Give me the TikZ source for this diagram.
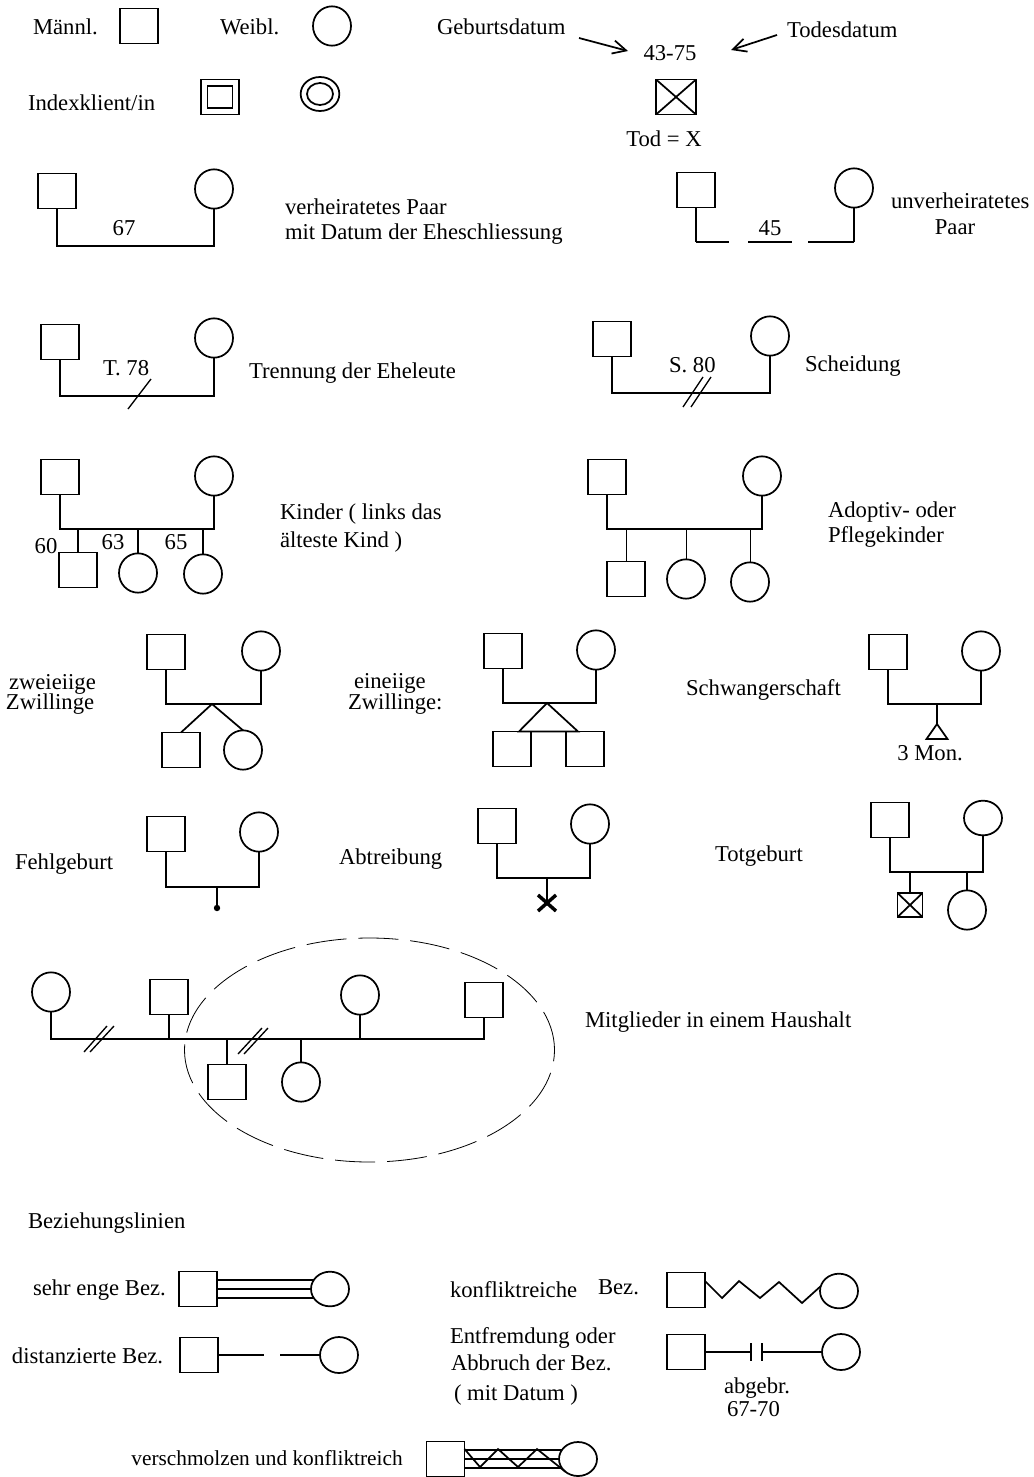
\documentclass[tikz,border=0pt]{standalone}
\usepackage{fontspec}
\setmainfont{Liberation Serif}
\usetikzlibrary{shapes.geometric,arrows.meta}
\begin{document}
\begin{tikzpicture}[x=0.75pt,y=-0.75pt,
  every node/.style={font=\fontsize{17}{20}\selectfont},
  lnk/.style={line width=1.3pt},
  thinlnk/.style={line width=0.7pt},
  slashmark/.style={line width=1pt},
  male/.style={draw, line width=1.3pt, rectangle, minimum width=28.5pt, minimum height=26.25pt, inner sep=0pt, outer sep=0pt},
  female/.style={draw, line width=1.3pt, ellipse, minimum width=28.5pt, minimum height=29.5pt, inner sep=0pt, outer sep=0pt},
  dead/.style={male, path picture={\draw[line width=1.3pt] (path picture bounding box.south west) -- (path picture bounding box.north east) (path picture bounding box.north west) -- (path picture bounding box.south east);}},
  txt/.style={anchor=base west, inner sep=0pt, outer sep=0pt},
  ctxt/.style={anchor=base, inner sep=0pt, outer sep=0pt},
  arr/.style={line width=1.3pt, -{Straight Barb[length=10pt,width=10pt,line width=1.3pt]}}]
\useasboundingbox (0,0) rectangle (1034,1477);

% ---------- symbols ----------
\node[txt] (tMale) at (33,35) {Männl.};
\node[male] (legM) at (139,26) {};
\node[txt] (tFemale) at (220,35) {Weibl.};
\node[female] (legF) at (332,26) {};
\node[txt] (tBirth) at (437,35) {Geburtsdatum};
\node[ctxt] (tDates) at (670,61) {43-75};
\node[txt] (tDeath) at (787,38) {Todesdatum};
\coordinate (aB0) at (579,38); \coordinate (aB1) at (628,51);
\coordinate (aD0) at (777,35); \coordinate (aD1) at (731,50);
\draw[arr] (aB0) -- (aB1);
\draw[arr] (aD0) -- (aD1);
\node[dead, minimum width=30pt, minimum height=26.25pt] (legDead) at (676,97) {};
\node[ctxt] (tDeadX) at (664,146) {Tod = X};

\node[txt] (tIndex) at (28,110) {Indexklient/in};
\node[male] (idxM) at (220,97) {};
\node[male, minimum width=18.75pt, minimum height=17pt] (idxMin) at (220,97) {};
\node[female, minimum width=29pt, minimum height=25.5pt] (idxF) at (320,94) {};
\node[female, minimum width=19.5pt, minimum height=16.5pt] (idxFin) at (320,94) {};

% ---------- married / unmarried ----------
\node[male] (mM) at (57,191) {};
\node[female] (mF) at (214,189) {};
\draw[lnk] (mM.south) -- (mM.south |- 0,246) -| (mF.south);
\node[ctxt] (tMYear) at (124,235) {67};
\node[txt] (tMarried1) at (285,214) {verheiratetes Paar};
\node[txt] (tMarried2) at (285,239) {mit Datum der Eheschliessung};

\node[male] (uM) at (696,190) {};
\node[female] (uF) at (854,188) {};
\draw[lnk] (uM.south) -- (uM.south |- 0,242);
\draw[lnk] (uF.south) -- (uF.south |- 0,242);
\draw[lnk, dash pattern=on 24.75pt off 14.25pt on 33pt off 12pt on 34.5pt] (uM.south |- 0,242) -- (uF.south |- 0,242);
\node[ctxt] (tUYear) at (770,235) {45};
\node[txt] (tUnmarried1) at (891,208) {unverheiratetes};
\node[ctxt] (tUnmarried2) at (955,234) {Paar};

% ---------- separation / divorce ----------
\node[male] (sM) at (60,342) {};
\node[female] (sF) at (214,338) {};
\draw[lnk] (sM.south) -- (sM.south |- 0,396) -| (sF.south);
\node[txt] (tSep) at (103,375) {T. 78};
\draw[slashmark] (128,409) -- (151,379);
\node[txt] (tSepL) at (249,378) {Trennung der Eheleute};

\node[male] (dM) at (612,339) {};
\node[female] (dF) at (770,336) {};
\draw[lnk] (dM.south) -- (dM.south |- 0,393) -| (dF.south);
\node[txt] (tDiv) at (669,372) {S. 80};
\draw[slashmark] (683,407) -- (703,377);
\draw[slashmark] (691,407) -- (711,377);
\node[txt] (tDivL) at (805,371) {Scheidung};

% ---------- children ----------
\node[male] (kM) at (60,477) {};
\node[female] (kF) at (214,476) {};
\draw[lnk] (kM.south) -- (kM.south |- 0,529) -| (kF.south);
\node[male] (k1) at (78,570) {};
\node[female] (k2) at (138,573) {};
\node[female] (k3) at (203,574) {};
\draw[lnk] (k1.north) -- (k1.north |- 0,529);
\draw[lnk] (k2.north) -- (k2.north |- 0,529);
\draw[lnk] (k3.north) -- (k3.north |- 0,529);
\node[ctxt] (tK1) at (46,553) {60};
\node[ctxt] (tK2) at (113,549) {63};
\node[ctxt] (tK3) at (176,549) {65};
\node[txt] (tKids1) at (280,519) {Kinder ( links das};
\node[txt] (tKids2) at (280,547) {älteste Kind )};

\node[male] (aM) at (607,477) {};
\node[female] (aF) at (762,476) {};
\draw[lnk] (aM.south) -- (aM.south |- 0,529) -| (aF.south);
\node[male] (a1) at (626,579) {};
\node[female] (a2) at (686,579) {};
\node[female] (a3) at (750,582) {};
\draw[thinlnk] (a1.north) -- (a1.north |- 0,529);
\draw[thinlnk] (a2.north) -- (a2.north |- 0,529);
\draw[thinlnk] (a3.north) -- (a3.north |- 0,529);
\node[txt] (tAdopt1) at (828,517) {Adoptiv- oder};
\node[txt] (tAdopt2) at (828,542) {Pflegekinder};

% ---------- twins / pregnancy ----------
\node[txt] (tDz1) at (9,689) {zweieiige};
\node[txt] (tDz2) at (6,709) {Zwillinge};
\node[male] (zM) at (166,652) {};
\node[female] (zF) at (261,651) {};
\draw[lnk] (zM.south) -- (zM.south |- 0,704) -| (zF.south);
\coordinate (zA) at (212,704);
\node[male] (z1) at (181,750) {};
\node[female] (z2) at (243,750) {};
\draw[lnk] (z1.north) -- (zA) -- (z2.north);

\node[txt] (tMz1) at (354,688) {eineiige};
\node[txt] (tMz2) at (348,709) {Zwillinge:};
\node[male] (eM) at (503,651) {};
\node[female] (eF) at (596,650) {};
\draw[lnk] (eM.south) -- (eM.south |- 0,703) -| (eF.south);
\node[male] (e1) at (512,749) {};
\node[male] (e2) at (585,749) {};
\coordinate (eA) at (547,703);
\coordinate (eL) at (e1.north -| 519,0);
\coordinate (eR) at (e2.north -| 578,0);
\draw[lnk] (eL) -- (eA) -- (eR) -- cycle;

\node[txt] (tPreg) at (686,695) {Schwangerschaft};
\node[male] (pM) at (888,652) {};
\node[female] (pF) at (981,651) {};
\draw[lnk] (pM.south) -- (pM.south |- 0,704) -| (pF.south);
\coordinate (pA) at (937,704);
\coordinate (pT) at (937,724);
\draw[lnk] (pA) -- (pT);
\draw[lnk] (pT) -- ++(-10.5,15) -- ++(21,0) -- cycle;
\node[ctxt] (tPregM) at (930,760) {3 Mon.};

% ---------- miscarriage / abortion / stillbirth ----------
\node[txt] (tMis) at (15,869) {Fehlgeburt};
\node[male] (fM) at (166,834) {};
\node[female] (fF) at (259,832) {};
\draw[lnk] (fM.south) -- (fM.south |- 0,887) -| (fF.south);
\coordinate (fA) at (217,887);
\coordinate (fD) at (217,908);
\draw[lnk] (fA) -- (fD);
\fill (fD) circle [radius=2.4pt];

\node[txt] (tAb) at (339,864) {Abtreibung};
\node[male] (abM) at (497,826) {};
\node[female] (abF) at (590,824) {};
\draw[lnk] (abM.south) -- (abM.south |- 0,878) -| (abF.south);
\coordinate (abA) at (547,878);
\coordinate (abX) at (547,903);
\draw[lnk] (abA) -- (abX);
\draw[line width=2.6pt] (abX) ++(-9,-8) -- ++(18,16) (abX) ++(9,-8) -- ++(-18,16);

\node[txt] (tStill) at (715,861) {Totgeburt};
\node[male] (tM) at (890,820) {};
\node[female, minimum height=26pt] (tF) at (983,818) {};
\draw[lnk] (tM.south) -- (tM.south |- 0,872) -| (tF.south);
\node[dead, minimum width=18.75pt, minimum height=18pt] (t1) at (910,905) {};
\node[female] (t2) at (967,910) {};
\draw[lnk] (t1.north) -- (t1.north |- 0,872);
\draw[lnk] (t2.north) -- (t2.north |- 0,872);

% ---------- household ----------
\node[female] (hF1) at (51,992) {};
\node[male] (hM1) at (169,997) {};
\node[male] (hC1) at (227,1082) {};
\node[female] (hC2) at (301,1082) {};
\node[female] (hF2) at (360,995) {};
\node[male] (hM2) at (484,1000) {};
\draw[lnk] (hF1.south) -- (hF1.south |- 0,1039) -- (hM2.south |- 0,1039) -- (hM2.south);
\draw[lnk] (hM1.south) -- (hM1.south |- 0,1039);
\draw[lnk] (hC1.north) -- (hC1.north |- 0,1039);
\draw[lnk] (hC2.north) -- (hC2.north |- 0,1039);
\draw[lnk] (hF2.south) -- (hF2.south |- 0,1039);
\draw[slashmark] (84,1052) -- (107,1026);
\draw[slashmark] (90,1052) -- (114,1026);
\draw[slashmark] (238,1054) -- (262,1028);
\draw[slashmark] (244,1054) -- (268,1028);
\draw[line width=0.6pt, dash pattern=on 30pt off 9pt] (369.5,1050) ellipse [x radius=138.75pt, y radius=84pt];
\node[txt] (tHouse) at (585,1027) {Mitglieder in einem Haushalt};

% ---------- relationship lines ----------
\node[txt] (tRel) at (28,1228) {Beziehungslinien};

\node[txt] (tClose) at (33,1295) {sehr enge Bez.};
\node[male] (cM) at (198,1289) {};
\node[female, minimum height=26pt] (cF) at (330,1289) {};
\draw[lnk] (cM.east |- cF.150) -- (cF.150);
\draw[lnk] (cM.east |- cF.180) -- (cF.180);
\draw[lnk] (cM.east |- cF.210) -- (cF.210);

\node[txt] (tDist) at (12,1363) {distanzierte Bez.};
\node[male] (xM) at (199,1355) {};
\node[female, minimum height=27pt] (xF) at (339,1355) {};
\draw[lnk] (xM.east) -- ++(46,0);
\draw[lnk] (xF.west) -- ++(-40,0);

\node[txt] (tConf1) at (450,1297) {konfliktreiche};
\node[txt] (tConf2) at (598,1294) {Bez.};
\node[male] (qM) at (686,1290) {};
\node[female, minimum height=26pt] (qF) at (839,1291) {};
\draw[lnk] (qM.east |- 0,1281) -- (722,1298) -- (739,1281) -- (760,1298) -- (779,1282) -- (802,1303) -- (qF.165);

\node[txt] (tCut1) at (450,1343) {Entfremdung oder};
\node[txt] (tCut2) at (451,1370) {Abbruch der Bez.};
\node[txt] (tCut3) at (454,1400) {( mit Datum )};
\node[male] (bM) at (686,1352) {};
\node[female, minimum height=27pt] (bF) at (841,1352) {};
\coordinate (b1) at (751,1352);
\coordinate (b2) at (762,1352);
\draw[lnk] (bM.east) -- (b1);
\draw[lnk] (b2) -- (bF.west);
\draw[lnk] (b1) ++(0,-9) -- ++(0,18);
\draw[lnk] (b2) ++(0,-9) -- ++(0,18);
\node[txt] (tCutD1) at (724,1393) {abgebr.};
\node[txt] (tCutD2) at (727,1416) {67-70};

\node[anchor=base east, inner sep=0pt, font=\fontsize{16}{19}\selectfont] (tFused) at (403,1465) {verschmolzen und konfliktreich};
\node[male] (vM) at (445.5,1459) {};
\node[female, minimum height=25.5pt] (vF) at (578,1459) {};
\draw[lnk] (vM.east |- vF.150) -- (vF.150);
\draw[lnk] (vM.east |- vF.180) -- (vF.180);
\draw[lnk] (vM.east |- vF.210) -- (vF.210);
\draw[lnk] (vM.east |- 0,1449) -- (480,1467) -- (498,1449) -- (518,1467) -- (537,1449) -- (vF.225);
\end{tikzpicture}
\end{document}
